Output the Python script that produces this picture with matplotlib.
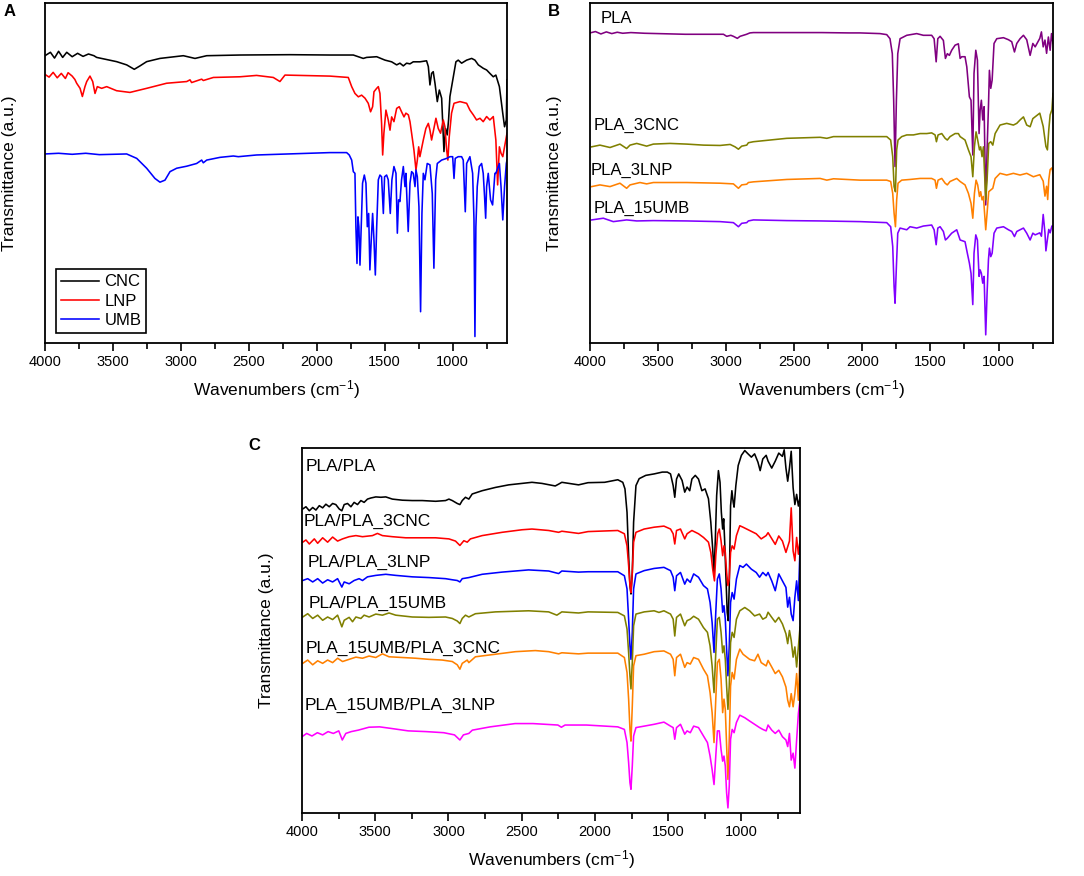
import numpy as np
import matplotlib
matplotlib.use('Agg')
import matplotlib.pyplot as plt
from matplotlib.ticker import MultipleLocator

plt.rcParams['font.family'] = ['Liberation Sans', 'DejaVu Sans']
plt.rcParams['mathtext.fontset'] = 'custom'
plt.rcParams['mathtext.rm'] = 'Liberation Sans'

# ---------------- Panel A data: (wavenumber cm-1, transmittance a.u.) ----------------
a_cnc = [(4000,84.5),(3960,85.5),(3930,83.8),(3900,85.8),(3870,84.0),(3840,85.5),(3800,84.2),(3760,85.2),(3720,84.3),(3680,85.0),(3640,84.5),(3620,84.0),(3473,82.75),(3399,81.8),(3343,80.5),(3301,81.5),(3252,82.75),(3154,83.7),(2982,84.5),(2896,83.7),(2810,84.5),(2565,84.7),(2197,84.8),(1903,84.7),(1731,84.7),(1658,83.7),(1633,84.0),(1559,84.2),(1498,83.2),(1449,82.7),(1412,81.8),(1388,82.3),(1363,81.5),(1339,82.3),(1314,82.1),(1290,82.7),(1241,82.7),(1192,83.0),(1179,81.3),(1167,75.9),(1155,79.3),(1143,79.8),(1130,76.4),(1113,71.0),(1098,74.4),(1081,72.0),(1064,56.3),(1052,63.1),(1040,61.2),(1030,65.6),(1020,72.5),(995,78.3),(976,82.7),(959,83.2),(934,82.3),(897,83.2),(860,83.7),(836,83.2),(811,81.8),(775,80.8),(750,80.3),(726,79.3),(701,78.3),(682,78.8),(656,75.4),(631,67.5),(618,63.6),(605,65.6),(600,77.4)]
a_lnp = [(4000,79.0),(3970,78.2),(3940,79.6),(3910,78.0),(3880,79.3),(3850,77.8),(3830,79.5),(3800,78.5),(3780,77.5),(3767,76.4),(3742,74.9),(3725,72.5),(3706,75.4),(3693,76.9),(3669,78.5),(3649,76.9),(3632,73.4),(3615,75.4),(3583,74.9),(3546,75.4),(3473,74.2),(3375,73.7),(3252,74.9),(3105,76.4),(2957,76.9),(2933,77.4),(2921,76.6),(2847,77.6),(2835,77.2),(2761,78.1),(2565,78.3),(2443,78.7),(2320,78.1),(2271,76.9),(2234,78.8),(1903,78.5),(1768,78.1),(1743,75.4),(1719,73.4),(1694,72.4),(1670,72.9),(1645,72.0),(1621,70.5),(1604,68.0),(1589,69.5),(1579,73.9),(1559,74.9),(1547,75.4),(1535,73.4),(1523,64.6),(1515,55.3),(1506,61.7),(1491,68.5),(1474,65.6),(1461,62.6),(1449,66.5),(1432,65.1),(1412,69.0),(1393,69.5),(1376,68.0),(1358,66.5),(1344,67.6),(1326,67.1),(1314,65.1),(1302,61.7),(1285,56.8),(1270,50.9),(1260,53.8),(1250,57.7),(1241,54.8),(1216,59.7),(1197,63.1),(1179,64.6),(1167,62.6),(1155,59.7),(1138,63.1),(1123,66.1),(1106,63.1),(1089,61.7),(1069,65.6),(1057,63.6),(1044,56.8),(1035,53.8),(1025,60.7),(1008,67.6),(990,70.5),(946,71.0),(897,70.5),(873,68.5),(848,67.1),(824,65.6),(799,66.1),(775,65.1),(750,66.6),(726,65.6),(701,66.6),(682,59.7),(669,46.5),(656,57.7),(644,55.8),(631,54.8),(618,57.7),(600,61.7)]
a_umb = [(4000,55.6),(3900,55.8),(3800,55.5),(3700,55.8),(3600,55.4),(3399,55.6),(3325,54.3),(3252,51.4),(3191,48.4),(3154,47.3),(3117,47.9),(3080,50.4),(3031,51.4),(2957,52.0),(2884,52.8),(2847,53.8),(2835,53.0),(2810,53.8),(2712,54.6),(2614,55.0),(2577,54.8),(2443,55.3),(1903,56.0),(1780,56.0),(1761,55.3),(1743,53.8),(1731,50.4),(1719,49.9),(1712,34.2),(1704,23.4),(1697,37.1),(1690,34.2),(1682,22.9),(1672,35.2),(1663,47.0),(1650,49.4),(1638,47.0),(1628,34.2),(1618,38.1),(1609,21.5),(1599,30.3),(1589,38.1),(1579,30.3),(1569,20.0),(1559,34.2),(1547,48.0),(1535,49.4),(1523,48.9),(1510,38.1),(1501,48.9),(1486,49.4),(1474,48.0),(1459,38.1),(1447,48.0),(1432,51.9),(1417,49.9),(1407,32.3),(1398,42.1),(1388,41.6),(1376,48.0),(1363,51.9),(1351,46.0),(1344,49.9),(1327,32.8),(1314,47.0),(1302,50.4),(1290,49.9),(1277,46.0),(1270,50.9),(1260,48.9),(1248,40.1),(1236,9.2),(1226,38.1),(1216,49.9),(1204,48.0),(1187,52.8),(1167,52.4),(1150,44.0),(1138,22.0),(1125,48.0),(1113,52.8),(1081,53.8),(1044,54.3),(1020,54.8),(1000,54.8),(990,48.4),(981,54.3),(959,54.8),(934,54.8),(922,53.8),(907,38.6),(897,52.8),(873,54.8),(853,49.9),(843,36.2),(836,1.9),(829,34.2),(819,46.0),(804,51.9),(787,52.8),(775,49.9),(765,43.0),(757,36.7),(750,46.0),(738,49.9),(721,42.1),(706,40.6),(689,49.9),(682,49.9),(656,52.8),(644,46.0),(631,36.2),(618,46.0),(605,52.8),(600,53.8)]

# ---------------- Panel B data ----------------
b_pla = [(4000,91.2),(3960,91.6),(3920,90.9),(3880,91.5),(3840,91.0),(3800,91.4),(3760,91.1),(3700,91.3),(3600,91.1),(3500,91.0),(3400,90.9),(3300,90.8),(3200,90.8),(3100,90.8),(3020,90.8),(2996,90.2),(2966,90.5),(2947,90.2),(2918,89.6),(2898,90.2),(2874,90.5),(2850,90.8),(2826,91.2),(2800,91.3),(2500,91.3),(2300,91.3),(2100,91.2),(2017,91.2),(1870,91.0),(1821,90.7),(1797,89.5),(1780,85.1),(1770,71.4),(1760,51.9),(1750,71.4),(1740,85.1),(1723,89.5),(1674,90.5),(1601,91.0),(1552,90.5),(1491,90.5),(1473,89.5),(1458,82.7),(1446,89.5),(1429,90.2),(1405,89.0),(1390,83.7),(1376,85.1),(1361,84.6),(1344,86.1),(1319,87.6),(1295,88.0),(1282,83.7),(1270,84.2),(1246,84.2),(1233,81.2),(1214,72.4),(1202,71.4),(1189,55.3),(1180,79.3),(1167,86.1),(1155,83.2),(1143,61.6),(1135,68.5),(1126,71.4),(1116,65.6),(1106,69.5),(1094,40.6),(1084,56.8),(1074,69.5),(1067,80.2),(1057,74.9),(1047,77.3),(1033,88.1),(1013,89.5),(964,89.8),(927,89.2),(903,88.6),(883,85.6),(866,88.1),(842,89.5),(817,90.5),(793,89.2),(768,84.6),(748,88.1),(731,87.1),(697,89.6),(685,91.5),(672,87.1),(659,89.1),(647,85.2),(634,90.0),(621,86.1),(611,91.0),(600,88.1)]
b_pla_3cnc = [(3988,57.7),(3927,58.2),(3853,57.5),(3780,58.5),(3731,57.2),(3706,58.2),(3657,58.7),(3584,57.9),(3535,58.5),(3412,58.7),(3290,58.5),(3167,58.2),(3045,58.1),(2971,58.4),(2935,57.7),(2910,57.0),(2886,57.9),(2849,58.2),(2837,58.9),(2800,59.2),(2678,59.7),(2555,60.2),(2310,60.5),(2261,60.2),(2212,60.7),(2017,60.7),(1821,60.7),(1792,59.7),(1777,54.8),(1767,46.0),(1757,44.5),(1748,56.8),(1738,59.7),(1711,60.7),(1674,61.2),(1625,61.2),(1576,61.6),(1527,61.6),(1491,61.8),(1466,61.2),(1456,59.2),(1444,61.2),(1417,61.6),(1392,60.2),(1376,59.7),(1356,60.7),(1319,61.6),(1295,61.6),(1282,60.7),(1246,59.7),(1221,56.8),(1202,54.8),(1189,48.9),(1177,57.7),(1165,62.1),(1153,59.7),(1140,56.8),(1131,57.7),(1121,54.8),(1111,57.7),(1094,42.1),(1084,47.9),(1072,58.7),(1057,59.2),(1042,58.2),(1025,61.6),(989,64.1),(940,64.6),(891,64.1),(866,64.6),(842,65.6),(817,66.5),(793,64.1),(768,63.6),(748,66.0),(697,67.6),(672,63.7),(652,57.8),(641,56.8),(631,62.7),(621,67.1),(608,68.6),(600,73.4)]
b_pla_3lnp = [(3988,46.0),(3927,46.5),(3853,46.0),(3780,47.0),(3731,45.5),(3706,46.5),(3633,47.2),(3584,46.8),(3535,47.2),(3290,47.2),(3045,47.0),(2947,46.8),(2910,45.5),(2886,46.5),(2849,46.7),(2837,47.2),(2800,47.4),(2555,48.1),(2310,48.4),(2261,47.9),(2212,48.3),(2017,47.9),(1821,47.9),(1792,47.5),(1777,44.0),(1767,38.2),(1757,34.2),(1748,42.1),(1738,47.0),(1711,47.9),(1650,48.1),(1576,48.4),(1491,48.4),(1466,47.9),(1456,45.5),(1444,47.9),(1417,48.4),(1392,47.0),(1376,46.5),(1356,47.5),(1307,48.4),(1282,47.5),(1246,46.5),(1221,44.0),(1202,41.1),(1189,36.7),(1177,44.0),(1165,47.9),(1153,46.5),(1140,43.1),(1131,44.5),(1121,42.1),(1111,43.1),(1094,33.3),(1084,38.2),(1072,44.5),(1057,45.0),(1042,45.5),(1025,48.4),(989,49.9),(940,49.4),(891,49.9),(842,49.4),(793,49.9),(744,48.9),(697,49.5),(672,47.6),(659,43.2),(647,46.1),(639,42.2),(631,48.0),(621,51.0),(608,51.5),(600,50.0)]
b_pla_15umb = [(3988,36.2),(3902,36.7),(3829,35.7),(3731,36.2),(3657,35.9),(3535,36.0),(3290,35.9),(3045,35.7),(2947,35.4),(2910,34.2),(2886,35.2),(2849,35.4),(2837,35.9),(2800,36.2),(2555,36.0),(2310,35.9),(2017,35.7),(1821,35.4),(1792,34.2),(1777,28.4),(1767,16.6),(1760,11.7),(1750,22.5),(1740,32.3),(1723,33.8),(1674,33.3),(1650,34.2),(1601,33.8),(1552,34.4),(1491,34.7),(1473,33.3),(1458,28.9),(1446,33.8),(1429,34.2),(1405,32.8),(1390,30.3),(1376,30.8),(1344,32.3),(1307,33.3),(1282,30.3),(1246,29.8),(1229,26.4),(1214,23.5),(1202,20.5),(1189,11.3),(1180,26.4),(1167,31.8),(1155,30.3),(1143,19.6),(1135,21.5),(1126,20.5),(1116,17.6),(1106,19.6),(1094,2.4),(1084,14.7),(1074,24.5),(1067,27.9),(1057,25.4),(1047,26.4),(1033,32.3),(1013,33.8),(964,34.2),(927,33.3),(903,32.8),(883,31.3),(866,32.8),(842,33.3),(817,33.8),(793,32.3),(768,30.3),(748,32.3),(731,31.8),(697,32.4),(685,31.4),(672,37.8),(659,32.4),(652,27.1),(641,30.5),(631,33.4),(621,32.4),(608,34.4),(600,34.4)]

# ---------------- Panel C data ----------------
c_pla_pla = [(3995,83.3),(3973,83.9),(3950,82.8),(3927,83.7),(3905,83.0),(3882,84.2),(3859,83.6),(3837,84.6),(3814,83.9),(3791,84.8),(3769,84.5),(3746,83.3),(3728,82.8),(3712,84.5),(3689,84.8),(3666,83.9),(3644,85.1),(3621,84.5),(3598,85.6),(3576,85.1),(3553,86.0),(3530,86.3),(3496,86.6),(3462,86.5),(3428,86.6),(3383,86.0),(3315,85.7),(3247,85.6),(3179,85.6),(3088,85.4),(3020,85.6),(2997,86.0),(2974,85.6),(2940,84.8),(2922,84.5),(2906,85.6),(2884,86.5),(2861,86.0),(2838,87.4),(2770,88.3),(2679,89.2),(2589,89.9),(2498,90.3),(2430,90.6),(2362,90.3),(2271,89.6),(2248,90.1),(2226,90.6),(2112,89.9),(2047,90.5),(1934,90.6),(1844,91.3),(1810,90.6),(1795,88.8),(1781,82.4),(1770,70.5),(1761,62.3),(1754,60.0),(1745,65.9),(1736,79.7),(1720,89.7),(1698,91.6),(1653,92.5),(1596,92.9),(1540,93.4),(1506,93.4),(1484,92.9),(1466,89.7),(1455,86.5),(1443,91.5),(1428,92.9),(1405,91.1),(1387,87.9),(1371,89.3),(1353,88.3),(1338,91.5),(1315,92.5),(1293,91.5),(1270,88.3),(1248,88.8),(1225,86.1),(1209,79.7),(1196,72.3),(1187,65.5),(1178,75.1),(1169,87.0),(1157,93.8),(1146,90.6),(1137,82.4),(1128,77.8),(1121,80.6),(1115,75.1),(1106,65.0),(1097,55.0),(1090,52.7),(1083,62.3),(1074,84.2),(1065,88.3),(1056,85.1),(1050,83.8),(1038,89.7),(1022,95.2),(1000,98.0),(977,99.3),(955,98.4),(932,97.5),(910,98.4),(887,96.1),(872,93.8),(854,97.0),(831,98.0),(818,96.4),(793,94.5),(769,96.4),(745,98.6),(720,97.7),(708,99.5),(696,94.5),(684,90.9),(672,94.5),(660,99.1),(647,89.1),(635,84.5),(623,87.3),(611,84.1),(600,86.4)]
c_pla_3cnc = [(3995,74.2),(3973,74.8),(3950,73.7),(3916,75.1),(3893,73.9),(3859,75.4),(3825,74.2),(3791,75.6),(3757,74.5),(3723,75.1),(3678,75.7),(3632,76.0),(3587,75.7),(3519,76.0),(3485,76.6),(3451,76.0),(3383,75.7),(3292,75.4),(3179,75.4),(3088,75.4),(2997,75.1),(2952,74.5),(2922,73.3),(2895,74.6),(2872,74.2),(2850,75.1),(2770,76.0),(2634,76.9),(2498,77.6),(2430,77.8),(2316,77.4),(2248,76.9),(2226,77.2),(2112,76.6),(2047,77.1),(1844,77.4),(1799,76.5),(1781,73.2),(1770,67.8),(1761,62.3),(1754,60.4),(1745,65.9),(1736,74.2),(1720,76.9),(1664,77.8),(1596,78.3),(1529,78.6),(1484,77.8),(1466,76.5),(1455,73.7),(1443,77.4),(1416,77.8),(1387,75.1),(1371,76.5),(1338,77.4),(1293,76.5),(1259,75.5),(1225,74.2),(1209,71.4),(1196,66.8),(1184,63.6),(1175,70.5),(1162,76.5),(1151,77.8),(1139,74.6),(1128,70.5),(1119,73.2),(1110,71.4),(1101,65.9),(1092,62.3),(1083,64.1),(1074,71.4),(1063,73.2),(1050,72.3),(1034,76.0),(1011,78.7),(989,78.3),(944,77.4),(899,76.5),(865,75.1),(831,76.0),(818,76.8),(769,73.6),(745,75.9),(720,74.5),(696,71.4),(672,74.5),(660,83.6),(647,71.8),(635,69.1),(623,75.5),(611,70.9),(600,74.5)]
c_pla_3lnp = [(3995,63.7),(3961,64.2),(3927,63.3),(3893,64.2),(3859,63.0),(3825,63.9),(3791,63.3),(3757,64.2),(3728,61.9),(3712,63.3),(3678,62.8),(3644,63.7),(3610,64.2),(3587,63.7),(3553,64.7),(3496,65.1),(3428,65.4),(3360,65.1),(3247,64.7),(3133,64.5),(3020,64.2),(2974,63.9),(2940,63.7),(2922,63.3),(2906,64.2),(2861,64.5),(2770,65.4),(2634,66.0),(2453,66.6),(2316,66.3),(2248,65.6),(2226,66.3),(2112,66.0),(2047,66.1),(1844,66.1),(1799,65.0),(1781,61.4),(1770,53.1),(1761,45.8),(1754,42.1),(1745,49.5),(1736,61.4),(1720,65.5),(1664,66.4),(1596,67.0),(1529,67.3),(1484,66.4),(1466,64.6),(1455,60.9),(1443,65.0),(1416,65.9),(1387,62.7),(1371,64.1),(1349,63.2),(1326,65.5),(1293,64.6),(1259,62.3),(1232,61.4),(1214,57.7),(1200,52.2),(1187,44.0),(1175,55.0),(1164,64.1),(1151,65.5),(1139,61.4),(1128,55.0),(1119,56.8),(1110,53.1),(1101,44.9),(1092,37.6),(1083,45.8),(1074,57.7),(1063,60.4),(1050,58.6),(1034,64.1),(1011,67.8),(989,67.3),(966,68.2),(932,66.8),(899,65.9),(876,64.6),(854,65.9),(831,65.0),(818,65.9),(793,63.6),(769,60.9),(745,65.5),(720,63.6),(696,61.8),(684,56.4),(672,59.1),(660,54.5),(647,52.7),(635,59.1),(623,63.6),(611,58.2),(600,72.7)]
c_pla_15umb = [(3995,53.7),(3961,54.6),(3927,53.3),(3893,54.2),(3859,52.8),(3825,53.7),(3791,53.0),(3757,54.2),(3728,51.0),(3712,52.8),(3678,53.6),(3655,52.4),(3632,53.7),(3598,53.3),(3576,54.2),(3542,53.7),(3496,54.5),(3451,54.2),(3406,54.8),(3360,54.2),(3247,53.7),(3133,53.6),(3020,53.7),(2974,53.3),(2940,52.6),(2922,51.9),(2906,53.3),(2884,54.2),(2861,53.7),(2816,54.6),(2679,55.1),(2453,55.4),(2316,55.1),(2260,54.2),(2226,55.1),(2112,54.8),(2047,55.1),(1844,54.95),(1799,54.0),(1781,50.4),(1770,43.9),(1761,37.6),(1754,34.0),(1745,41.2),(1736,51.3),(1720,54.5),(1664,55.1),(1596,55.4),(1563,54.95),(1529,55.4),(1484,54.5),(1466,53.1),(1455,48.5),(1443,53.6),(1416,54.5),(1387,51.3),(1371,52.7),(1349,53.1),(1326,53.9),(1293,53.1),(1259,50.8),(1232,49.5),(1214,45.8),(1200,40.3),(1187,33.0),(1175,43.9),(1164,53.1),(1151,53.6),(1139,49.5),(1128,43.9),(1119,45.8),(1110,42.1),(1101,34.8),(1092,28.4),(1083,34.8),(1074,46.7),(1063,49.5),(1050,48.1),(1034,53.1),(1011,55.4),(977,56.3),(944,55.4),(910,54.0),(876,54.5),(854,53.1),(831,53.6),(818,55.0),(793,53.6),(769,52.3),(745,53.6),(720,51.8),(696,49.1),(684,46.4),(672,50.0),(660,47.3),(647,42.7),(635,45.5),(623,40.0),(611,45.5),(600,50.9)]
c_umb_3cnc = [(3995,41.0),(3961,41.9),(3927,40.6),(3893,41.7),(3859,41.0),(3825,41.9),(3791,41.2),(3757,42.4),(3723,41.5),(3678,42.1),(3632,42.7),(3587,42.4),(3542,43.0),(3496,42.6),(3451,43.6),(3406,42.8),(3315,42.6),(3224,42.4),(3133,42.1),(3042,41.9),(2974,41.5),(2940,40.6),(2922,39.4),(2906,41.0),(2872,41.9),(2861,41.2),(2816,42.8),(2679,43.5),(2543,44.2),(2407,44.5),(2316,44.2),(2248,43.6),(2226,43.9),(2112,43.6),(2047,43.8),(1844,43.8),(1799,42.6),(1781,38.5),(1770,31.2),(1761,22.9),(1754,19.7),(1745,29.3),(1736,40.3),(1720,43.1),(1664,43.5),(1596,44.2),(1529,44.4),(1484,43.5),(1466,42.1),(1455,37.6),(1443,42.6),(1416,43.5),(1387,39.9),(1371,41.2),(1349,40.8),(1326,42.6),(1293,42.1),(1259,39.4),(1232,37.6),(1214,33.0),(1200,27.5),(1187,19.3),(1175,31.2),(1164,41.2),(1151,42.1),(1139,36.7),(1128,27.5),(1119,31.2),(1110,28.4),(1101,18.4),(1092,9.2),(1083,20.2),(1074,34.8),(1063,38.5),(1050,36.7),(1034,42.1),(1011,44.9),(989,43.5),(944,42.1),(910,41.7),(887,43.5),(865,41.2),(831,40.3),(818,41.8),(793,40.0),(769,38.2),(745,39.1),(720,37.3),(696,34.5),(684,30.9),(672,29.1),(660,32.7),(647,29.1),(635,32.7),(623,38.2),(611,30.9),(600,43.6)]
c_umb_3lnp = [(4000,20.9),(3968,21.8),(3932,21.1),(3895,22.0),(3859,21.4),(3822,22.3),(3786,21.8),(3749,22.5),(3725,20.0),(3701,21.8),(3664,22.3),(3616,22.7),(3543,23.5),(3470,23.6),(3397,23.2),(3275,22.5),(3153,22.3),(3032,22.0),(2959,21.4),(2922,20.0),(2898,21.4),(2861,21.8),(2837,22.7),(2715,23.6),(2545,24.5),(2423,24.5),(2253,24.1),(2229,23.5),(2204,24.1),(2058,24.1),(1844,23.6),(1799,22.9),(1781,19.3),(1770,13.8),(1761,8.3),(1754,6.5),(1745,12.9),(1736,21.1),(1720,23.4),(1664,23.8),(1596,24.3),(1529,24.9),(1484,23.8),(1466,23.4),(1455,20.2),(1443,23.4),(1416,24.3),(1387,21.6),(1371,22.5),(1349,22.0),(1326,23.8),(1293,23.4),(1259,21.1),(1232,19.3),(1214,15.6),(1200,11.9),(1187,7.8),(1175,15.6),(1164,22.5),(1151,22.5),(1139,17.4),(1128,14.2),(1119,15.6),(1110,12.9),(1101,5.5),(1092,1.4),(1083,7.4),(1074,20.2),(1063,22.9),(1050,22.0),(1034,24.8),(1011,26.8),(977,26.1),(944,25.2),(910,24.3),(876,23.4),(854,22.9),(831,22.5),(818,24.1),(793,22.7),(769,21.8),(745,22.7),(720,20.9),(696,20.0),(684,18.2),(672,21.8),(660,14.5),(647,16.4),(635,12.3),(623,20.0),(611,27.3),(600,30.9)]

a_labels = ['CNC', 'LNP', 'UMB']
a_colors = ['#000000', '#FF0000', '#0000FF']
b_labels = ['PLA', 'PLA_3CNC', 'PLA_3LNP', 'PLA_15UMB']
b_colors = ['#800080', '#808000', '#FF8000', '#8000FF']
c_labels = ['PLA/PLA', 'PLA/PLA_3CNC', 'PLA/PLA_3LNP', 'PLA/PLA_15UMB',
            'PLA_15UMB/PLA_3CNC', 'PLA_15UMB/PLA_3LNP']
c_colors = ['#000000', '#FF0000', '#0000FF', '#808000', '#FF8000', '#FF00FF']

# label anchor positions in axes fraction
b_label_pos = [(0.022, 0.954), (0.007, 0.639), (0.002, 0.508), (0.007, 0.396)]
c_label_pos = [(0.008, 0.950), (0.004, 0.800), (0.011, 0.686), (0.014, 0.575),
               (0.008, 0.450), (0.006, 0.294)]


def xy(series):
    arr = np.array(sorted(series, key=lambda p: -p[0]), dtype=float)
    return arr[:, 0], arr[:, 1]


def style(ax):
    ax.set_xlim(4000, 600)
    ax.set_ylim(0, 100)
    ax.xaxis.set_major_locator(MultipleLocator(500))
    ax.xaxis.set_minor_locator(MultipleLocator(250))
    ax.tick_params(axis='x', which='major', direction='out', length=6, width=1.2,
                   labelsize=10.5, pad=3, top=False)
    ax.tick_params(axis='x', which='minor', direction='out', length=4, width=1.2, top=False)
    ax.set_yticks([])
    for s in ax.spines.values():
        s.set_linewidth(1.3)
    ax.set_xlabel(r'Wavenumbers (cm$\mathregular{^{-1}}$)', fontsize=12.5, labelpad=6)
    ax.set_ylabel('Transmittance (a.u.)', fontsize=12.5, labelpad=20)


fig = plt.figure(figsize=(10.84, 8.76), dpi=100)

axA = fig.add_axes([45/1084, 1-343/876, 462/1084, 340/876])
axB = fig.add_axes([590/1084, 1-343/876, 463/1084, 340/876])
axC = fig.add_axes([302/1084, 1-813/876, 498/1084, 365/876])

for ser, lab, col in zip([a_cnc, a_lnp, a_umb], a_labels, a_colors):
    x, y = xy(ser)
    axA.plot(x, y, color=col, lw=1.15, label=lab)
style(axA)
leg = axA.legend(loc='lower left', bbox_to_anchor=(0.024, 0.03), borderaxespad=0,
                 fontsize=12, handlelength=2.3, handletextpad=0.3, labelspacing=0.25,
                 borderpad=0.3, fancybox=False, framealpha=1, edgecolor='black')
leg.get_frame().set_linewidth(1.2)

for ser, lab, col, pos in zip([b_pla, b_pla_3cnc, b_pla_3lnp, b_pla_15umb], b_labels, b_colors, b_label_pos):
    x, y = xy(ser)
    axB.plot(x, y, color=col, lw=1.15)
    axB.text(pos[0], pos[1], lab, transform=axB.transAxes, fontsize=12, ha='left', va='center')
style(axB)

for ser, lab, col, pos in zip([c_pla_pla, c_pla_3cnc, c_pla_3lnp, c_pla_15umb, c_umb_3cnc, c_umb_3lnp],
                              c_labels, c_colors, c_label_pos):
    x, y = xy(ser)
    axC.plot(x, y, color=col, lw=1.15)
    axC.text(pos[0], pos[1], lab, transform=axC.transAxes, fontsize=12.5, ha='left', va='center')
style(axC)

fig.text(4/1084, 1-4/876, 'A', fontsize=12, fontweight='bold', ha='left', va='top')
fig.text(548/1084, 1-4/876, 'B', fontsize=12, fontweight='bold', ha='left', va='top')
fig.text(248/1084, 1-438/876, 'C', fontsize=12, fontweight='bold', ha='left', va='top')

fig.savefig('out.png', dpi=100)
